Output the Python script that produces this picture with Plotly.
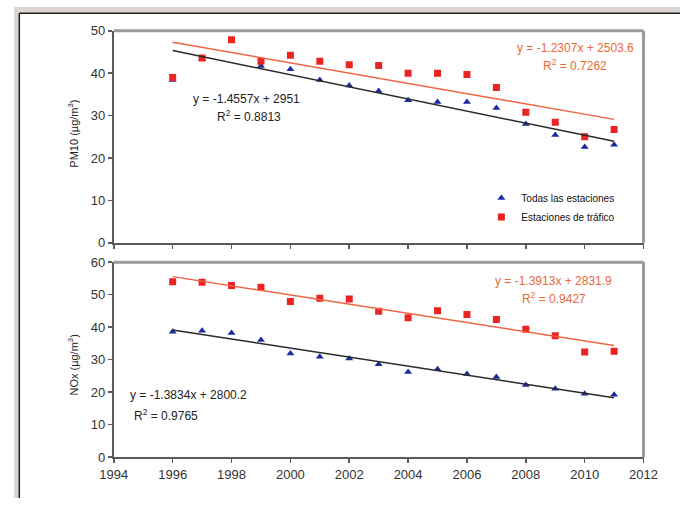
import numpy as np
import plotly.graph_objects as go

years = [1996, 1997, 1998, 1999, 2000, 2001, 2002, 2003, 2004, 2005, 2006, 2007, 2008, 2009, 2010, 2011]

pm10_todas = [38.4, 43.4, 47.6, 41.7, 40.9, 38.4, 37.1, 35.8, 33.6, 33.2, 33.2, 31.8, 28.0, 25.4, 22.6, 23.1]
pm10_trafico = [39.0, 43.6, 47.9, 42.8, 44.2, 42.8, 42.0, 41.8, 40.0, 40.0, 39.7, 36.6, 30.8, 28.4, 25.0, 26.7]

nox_todas = [38.6, 38.9, 38.2, 36.1, 31.9, 30.9, 30.4, 28.6, 26.2, 27.1, 25.6, 24.7, 22.2, 21.1, 19.5, 19.2]
nox_trafico = [54.0, 53.8, 52.8, 52.3, 47.9, 48.9, 48.7, 44.9, 42.9, 45.1, 43.9, 42.4, 39.4, 37.4, 32.4, 32.6]

x_ticks = [1994, 1996, 1998, 2000, 2002, 2004, 2006, 2008, 2010, 2012]
pm10_ticks = [0, 10, 20, 30, 40, 50]
nox_ticks = [0, 10, 20, 30, 40, 50, 60]

eq_pm10_todas = ["y = -1.4557x + 2951", "R<sup>2</sup> = 0.8813"]
eq_pm10_trafico = ["y = -1.2307x + 2503.6", "R<sup>2</sup> = 0.7262"]
eq_nox_todas = ["y = -1.3834x + 2800.2", "R<sup>2</sup> = 0.9765"]
eq_nox_trafico = ["y = -1.3913x + 2831.9", "R<sup>2</sup> = 0.9427"]

name_todas = "Todas las estaciones"
name_trafico = "Estaciones de tráfico"

W, H = 694, 506
BLUE = "#1b2a9c"
RED = "#ea2323"
BLACK_LINE = "#2a2a2a"
RED_LINE = "#f06445"
ORANGE_TXT = "#ea6a35"
FONT = "Liberation Sans, Arial, sans-serif"


def px(x):
    return x / W


def py(y):
    return 1 - y / H


def fit(xs, ys):
    m, b = np.polyfit(np.array(xs, float), np.array(ys, float), 1)
    xx = np.array([xs[0], xs[-1]], float)
    return xx, m * xx + b


fig = go.Figure()

# top panel (PM10)
fig.add_trace(go.Scatter(x=years, y=pm10_todas, mode="markers", name=name_todas,
                         marker=dict(symbol="triangle-up", size=7, color=BLUE),
                         xaxis="x", yaxis="y"))
fig.add_trace(go.Scatter(x=years, y=pm10_trafico, mode="markers", name=name_trafico,
                         marker=dict(symbol="square", size=7, color=RED),
                         xaxis="x", yaxis="y"))
fx, fy = fit(years, pm10_todas)
fig.add_trace(go.Scatter(x=fx, y=fy, mode="lines", line=dict(color=BLACK_LINE, width=1.5),
                         showlegend=False, hoverinfo="skip", xaxis="x", yaxis="y"))
fx, fy = fit(years, pm10_trafico)
fig.add_trace(go.Scatter(x=fx, y=fy, mode="lines", line=dict(color=RED_LINE, width=1.5),
                         showlegend=False, hoverinfo="skip", xaxis="x", yaxis="y"))

# bottom panel (NOx)
fig.add_trace(go.Scatter(x=years, y=nox_todas, mode="markers", name=name_todas,
                         marker=dict(symbol="triangle-up", size=7, color=BLUE),
                         showlegend=False, xaxis="x2", yaxis="y2"))
fig.add_trace(go.Scatter(x=years, y=nox_trafico, mode="markers", name=name_trafico,
                         marker=dict(symbol="square", size=7, color=RED),
                         showlegend=False, xaxis="x2", yaxis="y2"))
fx, fy = fit(years, nox_todas)
fig.add_trace(go.Scatter(x=fx, y=fy, mode="lines", line=dict(color=BLACK_LINE, width=1.5),
                         showlegend=False, hoverinfo="skip", xaxis="x2", yaxis="y2"))
fx, fy = fit(years, nox_trafico)
fig.add_trace(go.Scatter(x=fx, y=fy, mode="lines", line=dict(color=RED_LINE, width=1.5),
                         showlegend=False, hoverinfo="skip", xaxis="x2", yaxis="y2"))

xdom = [px(104), px(656)]
axis_common = dict(showgrid=False, zeroline=False, showline=True, linecolor="#5a5a5a",
                   linewidth=2, ticks="outside", ticklen=4, tickcolor="#5a5a5a",
                   tickwidth=1.5, tickfont=dict(family=FONT, size=13, color="#333333"))

fig.update_layout(
    width=W, height=H,
    margin=dict(l=0, r=0, t=0, b=0),
    paper_bgcolor="white", plot_bgcolor="white",
    font=dict(family=FONT, color="#222222"),
    hovermode=False,
    xaxis=dict(domain=xdom, range=[1994, 2012], tickvals=x_ticks, showticklabels=False,
               anchor="y", **axis_common),
    yaxis=dict(domain=[py(243), py(24.5)], range=[0, 50], tickvals=pm10_ticks,
               anchor="x", **axis_common),
    xaxis2=dict(domain=xdom, range=[1994, 2012], tickvals=x_ticks, anchor="y2",
                **axis_common),
    yaxis2=dict(domain=[py(464), py(263)], range=[0, 60], tickvals=nox_ticks,
                anchor="x2", **axis_common),
    showlegend=True,
    legend=dict(x=px(487), y=py(182), xanchor="left", yanchor="top",
                bgcolor="rgba(0,0,0,0)", itemwidth=30,
                font=dict(family=FONT, size=10, color="#111111"),
                tracegroupgap=0),
)

# outer frame (grey band + dark line at top and left)
shapes = [
    dict(type="rect", xref="paper", yref="paper", x0=0, x1=1, y0=py(6), y1=1,
         fillcolor="#ddd5d1", line=dict(width=0), layer="above"),
    dict(type="rect", xref="paper", yref="paper", x0=0, x1=px(5), y0=0, y1=1,
         fillcolor="#ddd5d1", line=dict(width=0), layer="above"),
    dict(type="line", xref="paper", yref="paper", x0=px(5.5), x1=1, y0=py(6.5), y1=py(6.5),
         line=dict(color="#1e1e1e", width=1.5), layer="above"),
    dict(type="line", xref="paper", yref="paper", x0=px(5.5), x1=px(5.5), y0=0, y1=py(6.5),
         line=dict(color="#1e1e1e", width=1.5), layer="above"),
]
# grey top/right borders of each plot area
for xr, yr in [("x domain", "y domain"), ("x2 domain", "y2 domain")]:
    shapes.append(dict(type="line", xref=xr, yref=yr, x0=0, x1=1, y0=1, y1=1,
                       line=dict(color="#9a9a9a", width=3)))
    shapes.append(dict(type="line", xref=xr, yref=yr, x0=1, x1=1, y0=0, y1=1,
                       line=dict(color="#9a9a9a", width=3)))
fig.update_layout(shapes=shapes)

ann = []


def add_text(text, x, y, color, size=12, angle=0):
    ann.append(dict(text=text, x=px(x), y=py(y), xref="paper", yref="paper",
                    showarrow=False, xanchor="center", yanchor="middle",
                    textangle=angle, font=dict(family=FONT, size=size, color=color)))


add_text(eq_pm10_trafico[0], 585, 42, ORANGE_TXT)
add_text(eq_pm10_trafico[1], 585, 60, ORANGE_TXT)
add_text(eq_pm10_todas[0], 242, 95, "#222222")
add_text(eq_pm10_todas[1], 245, 112, "#222222")
add_text(eq_nox_trafico[0], 562, 282, ORANGE_TXT)
add_text(eq_nox_trafico[1], 563, 300, ORANGE_TXT)
add_text(eq_nox_todas[0], 182, 400, "#222222")
add_text(eq_nox_todas[1], 158, 420, "#222222")
add_text("PM10 (µg/m<sup>3</sup>)", 62, 130, "#222222", size=11, angle=-90)
add_text("NOx (µg/m<sup>3</sup>)", 62, 369, "#222222", size=11, angle=-90)
fig.update_layout(annotations=ann)

fig.write_html("out.html", config={"displayModeBar": False, "staticPlot": True},
               post_script="document.body.style.margin='0';document.body.style.overflow='hidden';")
